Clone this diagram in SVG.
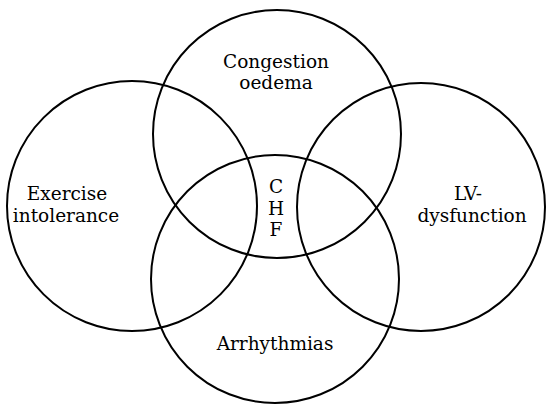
<svg xmlns="http://www.w3.org/2000/svg" width="546" height="405" viewBox="0 0 546 405">
<style>
.c{fill:none;stroke:#000;stroke-width:2}
text{font-family:"DejaVu Serif","Liberation Serif",serif;font-size:18.5px;fill:#000;text-anchor:middle}
</style>
<rect width="546" height="405" fill="#fff"/>
<g id="congestion"><circle class="c" cx="277" cy="134" r="124"/><text x="276" y="68">Congestion</text><text x="276" y="89">oedema</text></g>
<g id="exercise"><circle class="c" cx="132" cy="206" r="125"/><text x="67" y="200">Exercise</text><text x="66" y="222">intolerance</text></g>
<g id="lv"><circle class="c" cx="421" cy="207" r="124"/><text x="468" y="200">LV-</text><text x="472" y="222">dysfunction</text></g>
<g id="arrhythmias"><circle class="c" cx="275" cy="279" r="124"/><text x="275" y="350">Arrhythmias</text></g>
<g id="chf"><text x="276" y="193">C</text><text x="276" y="215">H</text><text x="276" y="236">F</text></g>
<g id="connectors"/>
</svg>
